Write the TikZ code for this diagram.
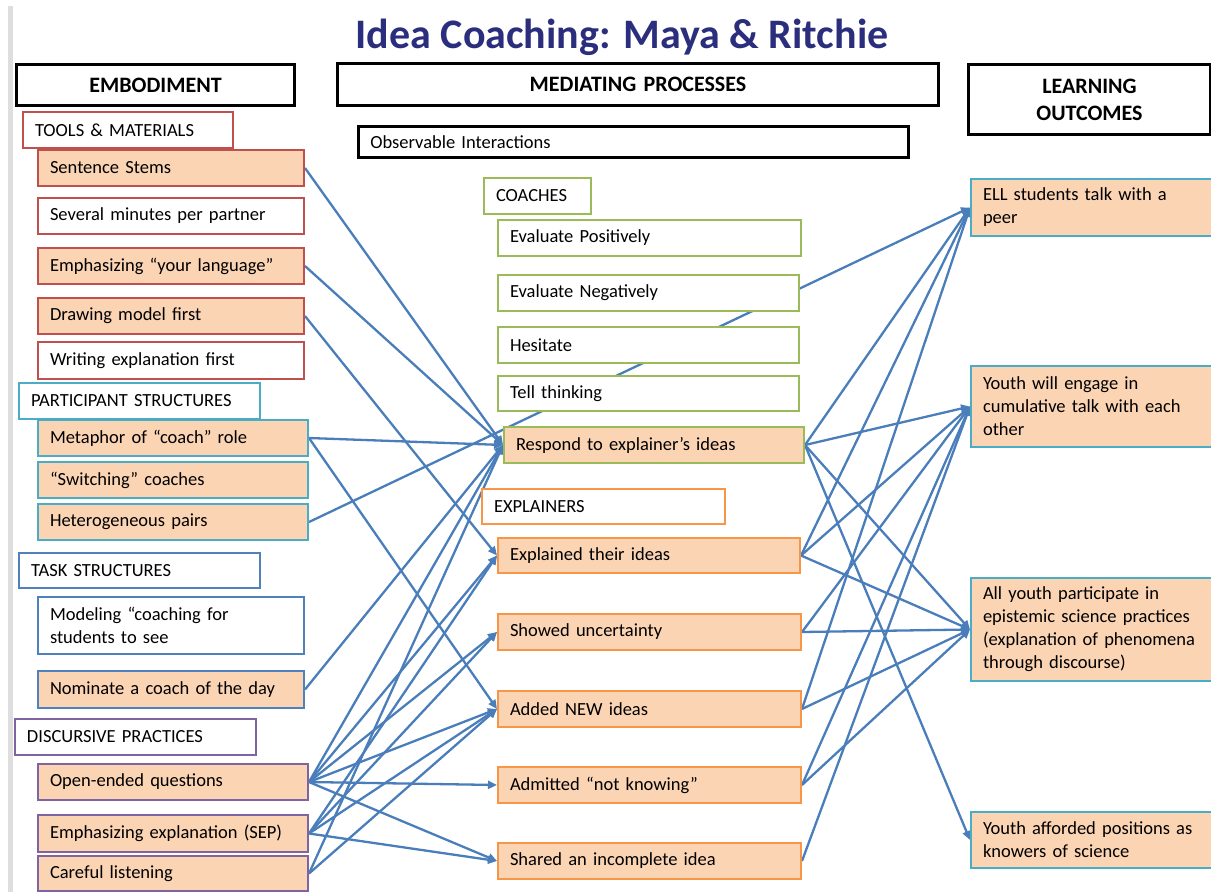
\documentclass[tikz,border=0pt]{standalone}
\usepackage{fontspec}
\setmainfont{Carlito}
\usetikzlibrary{arrows.meta,backgrounds}
\definecolor{peach}{RGB}{251,212,180}
\definecolor{cred}{RGB}{192,80,77}
\definecolor{ccyan}{RGB}{75,172,198}
\definecolor{cblue}{RGB}{79,129,189}
\definecolor{cpurple}{RGB}{128,100,162}
\definecolor{cgreen}{RGB}{155,187,89}
\definecolor{corange}{RGB}{247,150,70}
\definecolor{lineblue}{RGB}{74,126,187}
\definecolor{navy}{RGB}{43,46,125}
\definecolor{barg}{RGB}{222,222,222}
\tikzset{
  bx/.style={draw,line width=2pt,anchor=north west,inner xsep=12pt,inner ysep=0pt,align=left,
    font=\fontsize{18.5}{23}\selectfont},
  hd/.style={draw=black,line width=3pt,fill=white,align=center,font=\bfseries\fontsize{22}{27}\selectfont},
  obsst/.style={draw=black,line width=2.5pt,fill=white,inner xsep=10pt},
  tmw/.style={draw=cred,fill=white}, tmf/.style={draw=cred,fill=peach},
  psw/.style={draw=ccyan,fill=white}, psf/.style={draw=ccyan,fill=peach},
  tsw/.style={draw=cblue,fill=white}, tsf/.style={draw=cblue,fill=peach},
  dpw/.style={draw=cpurple,fill=white}, dpf/.style={draw=cpurple,fill=peach},
  cow/.style={draw=cgreen,fill=white}, cof/.style={draw=cgreen,fill=peach},
  exw/.style={draw=corange,fill=white}, exf/.style={draw=corange,fill=peach},
  lo/.style={draw=ccyan,fill=peach},
  conn/.style={draw=lineblue,line width=2.3pt,-{Triangle[length=9pt,width=8pt]}},
  ttl/.style={text=navy,font=\bfseries\fontsize{42}{48}\selectfont,anchor=base}
}
\newcommand{\bx}[7]{%
  \pgfmathsetmacro{\bw}{#4-#2}\pgfmathsetmacro{\bh}{#5-#3}\pgfmathsetmacro{\tw}{#4-#2-24}%
  \node[bx,#6,minimum width=\bw pt,minimum height=\bh pt,text width=\tw pt] (#1) at (#2,#3) {#7};}
\begin{document}
\begin{tikzpicture}[x=1pt,y=-1pt]
\useasboundingbox (0,0) rectangle (1211,892);
\fill[barg] (8,6) rectangle (13,892);
\node[ttl] (title) at (622,48) {Idea Coaching: Maya \& Ritchie};
% headers
\bx{emb}{15}{63}{293}{104}{hd}{EMBODIMENT}
\bx{med}{336}{62}{937}{104}{hd}{MEDIATING PROCESSES}
\bx{lrn}{967}{63}{1209}{133}{hd}{LEARNING\\OUTCOMES}
\bx{obs}{357}{125}{907}{156}{obsst}{Observable Interactions}
% left column
\bx{tools}{22}{111}{232}{147}{tmw}{TOOLS \& MATERIALS}
\bx{stems}{37}{149}{303}{185}{tmf}{Sentence Stems}
\bx{minutes}{37}{197}{303}{233}{tmw}{Several minutes per partner}
\bx{lang}{37}{247}{303}{283}{tmf}{Emphasizing “your language”}
\bx{drawing}{37}{297}{303}{333}{tmf}{Drawing model first}
\bx{writing}{37}{341}{303}{378}{tmw}{Writing explanation first}
\bx{part}{18}{382}{259}{418}{psw}{PARTICIPANT STRUCTURES}
\bx{metaphor}{37}{419}{307}{455}{psf}{Metaphor of “coach” role}
\bx{switch}{37}{461}{307}{497}{psf}{“Switching” coaches}
\bx{hetero}{37}{503}{307}{539}{psf}{Heterogeneous pairs}
\bx{task}{18}{552}{259}{587}{tsw}{TASK STRUCTURES}
\bx{modeling}{37}{596}{303}{653}{tsw}{Modeling “coaching for\\students to see}
\bx{nominate}{37}{670}{303}{707}{tsf}{Nominate a coach of the day}
\bx{disc}{14}{718}{255}{754}{dpw}{DISCURSIVE PRACTICES}
\bx{open}{37}{763}{307}{799}{dpf}{Open-ended questions}
\bx{sep}{37}{814}{307}{851}{dpf}{Emphasizing explanation (SEP)}
\bx{careful}{37}{855}{307}{890}{dpf}{Careful listening}
% middle column
\bx{coaches}{483}{177}{590}{213}{cow}{COACHES}
\bx{evpos}{497}{219}{800}{255}{cow}{Evaluate Positively}
\bx{evneg}{497}{274}{798}{310}{cow}{Evaluate Negatively}
\bx{hes}{497}{326}{798}{362}{cow}{Hesitate}
\bx{tell}{497}{375}{798}{410}{cow}{Tell thinking}
\bx{respond}{503}{426}{803}{462}{cof}{Respond to explainer’s ideas}
\bx{expl}{481}{488}{724}{523}{exw}{EXPLAINERS}
\bx{explained}{497}{537}{799}{572}{exf}{Explained their ideas}
\bx{showed}{497}{613}{800}{649}{exf}{Showed uncertainty}
\bx{added}{497}{690}{800}{726}{exf}{Added NEW ideas}
\bx{admitted}{497}{766}{800}{802}{exf}{Admitted “not knowing”}
\bx{shared}{497}{842}{800}{878}{exf}{Shared an incomplete idea}
% right column
\bx{ell}{970}{178}{1214}{235}{lo}{ELL students talk with a\\peer}
\bx{cum}{970}{365}{1214}{446}{lo}{Youth will engage in\\cumulative talk with each\\other}
\bx{all}{970}{577}{1214}{680}{lo}{All youth participate in\\epistemic science practices\\(explanation of phenomena\\through discourse)}
\bx{aff}{970}{811}{1214}{867}{lo}{Youth afforded positions as\\knowers of science}
% connectors
\begin{scope}[on background layer]
\draw[conn] (stems.east) -- (respond.west);
\draw[conn] (lang.east) -- (respond.west);
\draw[conn] (drawing.east) -- (explained.west);
\draw[conn] (metaphor.east) -- (respond.west);
\draw[conn] (metaphor.east) -- (added.west);
\draw[conn] (hetero.east) -- (ell.west);
\draw[conn] (nominate.east) -- (respond.west);
\draw[conn] (open.east) -- (respond.west);
\draw[conn] (open.east) -- (explained.west);
\draw[conn] (open.east) -- (showed.west);
\draw[conn] (open.east) -- (added.west);
\draw[conn] (open.east) -- (admitted.west);
\draw[conn] (open.east) -- (shared.west);
\draw[conn] (sep.east) -- (explained.west);
\draw[conn] (sep.east) -- (showed.west);
\draw[conn] (sep.east) -- (added.west);
\draw[conn] (sep.east) -- (shared.west);
\draw[conn] (careful.east) -- (respond.west);
\draw[conn] (careful.east) -- (added.west);
\draw[conn] (respond.east) -- (ell.west);
\draw[conn] (respond.east) -- (cum.west);
\draw[conn] (respond.east) -- (all.west);
\draw[conn] (respond.east) -- (aff.west);
\draw[conn] (explained.east) -- (ell.west);
\draw[conn] (explained.east) -- (cum.west);
\draw[conn] (explained.east) -- (all.west);
\draw[conn] (showed.east) -- (cum.west);
\draw[conn] (showed.east) -- (all.west);
\draw[conn] (added.east) -- (ell.west);
\draw[conn] (added.east) -- (all.west);
\draw[conn] (admitted.east) -- (cum.west);
\draw[conn] (admitted.east) -- (all.west);
\draw[conn] (shared.east) -- (cum.west);
\end{scope}
\end{tikzpicture}
\end{document}
